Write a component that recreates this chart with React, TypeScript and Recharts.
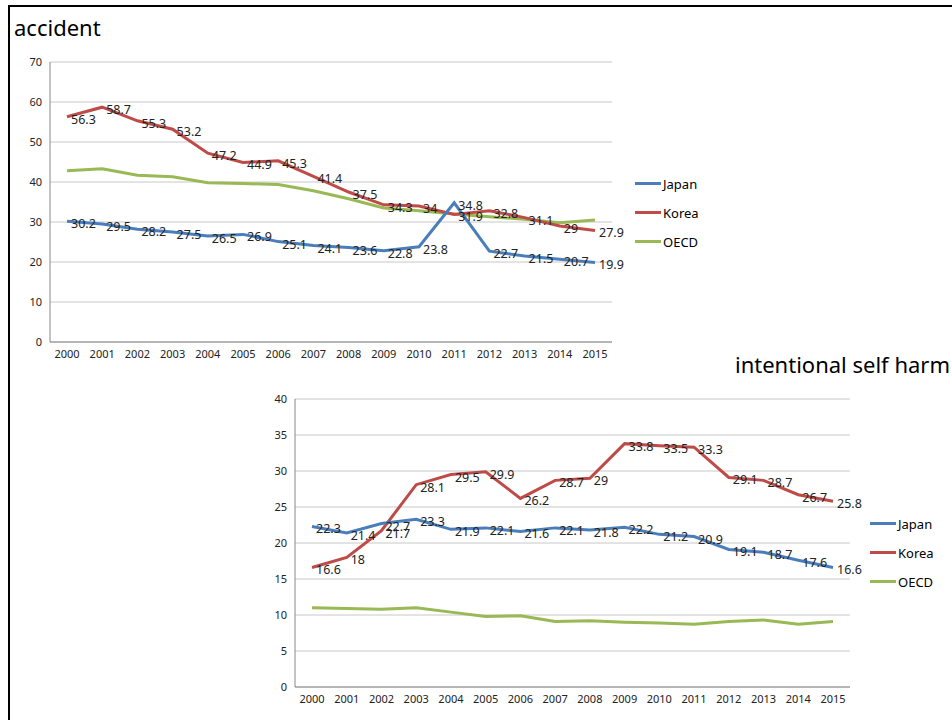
import React from 'react'
import { LineChart, Line, XAxis, YAxis, CartesianGrid, LabelList } from 'recharts'

const years = ['2000','2001','2002','2003','2004','2005','2006','2007','2008','2009','2010','2011','2012','2013','2014','2015']

const accJapan = [30.2, 29.5, 28.2, 27.5, 26.5, 26.9, 25.1, 24.1, 23.6, 22.8, 23.8, 34.8, 22.7, 21.5, 20.7, 19.9]
const accKorea = [56.3, 58.7, 55.3, 53.2, 47.2, 44.9, 45.3, 41.4, 37.5, 34.3, 34, 31.9, 32.8, 31.1, 29, 27.9]
const accOecd = [42.8, 43.3, 41.7, 41.3, 39.8, 39.6, 39.4, 37.8, 35.8, 33.5, 32.8, 32.0, 31.3, 30.7, 29.8, 30.5]

const selfJapan = [22.3, 21.4, 22.7, 23.3, 21.9, 22.1, 21.6, 22.1, 21.8, 22.2, 21.2, 20.9, 19.1, 18.7, 17.6, 16.6]
const selfKorea = [16.6, 18, 21.7, 28.1, 29.5, 29.9, 26.2, 28.7, 29, 33.8, 33.5, 33.3, 29.1, 28.7, 26.7, 25.8]
const selfOecd = [11, 10.9, 10.8, 11, 10.4, 9.8, 9.9, 9.1, 9.2, 9.0, 8.9, 8.7, 9.1, 9.3, 8.7, 9.1]

const accTicks = [0, 10, 20, 30, 40, 50, 60, 70]
const selfTicks = [0, 5, 10, 15, 20, 25, 30, 35, 40]

const BLUE = '#4a7ebb'
const RED = '#be4b48'
const GREEN = '#98b954'
const FONT = '"Noto Sans", sans-serif'

const accData = years.map((y, i) => ({ year: y, Japan: accJapan[i], Korea: accKorea[i], OECD: accOecd[i] }))
const selfData = years.map((y, i) => ({ year: y, Japan: selfJapan[i], Korea: selfKorea[i], OECD: selfOecd[i] }))

const renderLabel = (props: any) => {
    const { x, y, value } = props
    return (
        <text x={x + 4} y={y + 7} fontSize={12.5} fill='#222' fontFamily={FONT}>{value}</text>
    )
}

function Legend({ left, top }: { left: number, top: number }) {
    const items = [['Japan', BLUE], ['Korea', RED], ['OECD', GREEN]]
    return (
        <div style={{ position: 'absolute', left, top, fontFamily: FONT, fontSize: 13 }}>
            {items.map(([name, c]) => (
                <div key={name} style={{ display: 'flex', alignItems: 'center', height: 29 }}>
                    <div style={{ width: 26, height: 3, background: c, marginRight: 2 }} />
                    <span>{name}</span>
                </div>
            ))}
        </div>
    )
}

function Chart({ data, ticks, max, width, height, margin, pad }: any) {
    return (
        <LineChart width={width} height={height} data={data} margin={margin} style={{ overflow: 'visible' }}>
            <CartesianGrid vertical={false} stroke='#c8c8c8' />
            <XAxis dataKey='year' height={28} padding={{ left: pad, right: pad }} tick={{ fontSize: 11, fill: '#222', fontFamily: FONT }} stroke='#888' tickLine={false} interval={0} />
            <YAxis domain={[0, max]} ticks={ticks} width={40} tick={{ fontSize: 11, fill: '#222', fontFamily: FONT }} stroke='#888' tickLine={false} />
            <Line dataKey='OECD' stroke={GREEN} strokeWidth={3} dot={false} isAnimationActive={false} />
            <Line dataKey='Korea' stroke={RED} strokeWidth={3} dot={false} isAnimationActive={false}>
                <LabelList dataKey='Korea' content={renderLabel} />
            </Line>
            <Line dataKey='Japan' stroke={BLUE} strokeWidth={3} dot={false} isAnimationActive={false}>
                <LabelList dataKey='Japan' content={renderLabel} />
            </Line>
        </LineChart>
    )
}

export default function App() {
    return (
        <div style={{ position: 'absolute', left: 0, top: 0, width: 952, height: 720, background: '#fff', overflow: 'hidden' }}>
            <div style={{ position: 'absolute', left: 8, top: 5, width: 960, height: 740, border: '2px solid #000' }} />
            <div style={{ position: 'absolute', left: 14, top: 12, fontFamily: FONT, fontSize: 22 }}>accident</div>
            <div style={{ position: 'absolute', left: 10, top: 50 }}>
                <Chart data={accData} ticks={accTicks} max={70} width={620} height={320} pad={17} margin={{ top: 12, right: 18, left: 0, bottom: 0 }} />
            </div>
            <Legend left={635} top={169} />
            <div style={{ position: 'absolute', right: 2, top: 349, fontFamily: FONT, fontSize: 22 }}>intentional self harm</div>
            <div style={{ position: 'absolute', left: 255, top: 390 }}>
                <Chart data={selfData} ticks={selfTicks} max={40} width={615} height={325} pad={17} margin={{ top: 9, right: 20, left: 0, bottom: 0 }} />
            </div>
            <Legend left={870} top={509} />
        </div>
    )
}
